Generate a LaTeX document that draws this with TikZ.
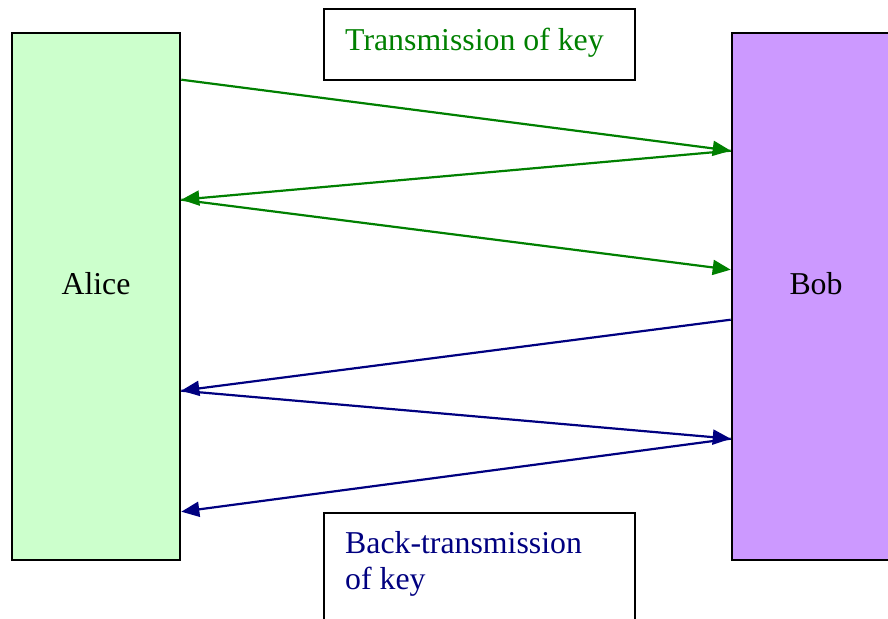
\documentclass[tikz,border=0pt]{standalone}
\usepackage{fontspec}
\setmainfont{Liberation Serif}
\usetikzlibrary{arrows.meta}
\definecolor{keygreen}{HTML}{008000}
\definecolor{keynavy}{HTML}{000080}
\definecolor{alicefill}{HTML}{CCFFCC}
\definecolor{bobfill}{HTML}{CC99FF}
\begin{document}
\begin{tikzpicture}[x=1pt,y=-1pt,
  party/.style={draw=black, line width=2.6pt, minimum width=168pt, minimum height=527pt, inner sep=0pt},
  labelbox/.style={draw=black, line width=2.6pt, minimum width=311pt, inner sep=0pt},
  txt/.style={font=\fontsize{31.8}{36}\selectfont, inner sep=0pt},
  fwd/.style={draw=keygreen, line width=2.2pt, -{Triangle[length=18pt,width=15pt]}},
  back/.style={draw=keynavy, line width=2.2pt, -{Triangle[length=18pt,width=15pt]}}]
\useasboundingbox (0,0) rectangle (888,618);
\clip (0,0) rectangle (888,618);

% the two parties
\node[party, fill=alicefill] (alice) at (96,296.5) {};
\node[party, fill=bobfill] (bob) at (816,296.5) {};
\node[txt, anchor=base] (alicetxt) at (96,294) {Alice};
\node[txt, anchor=base] (bobtxt) at (816,294) {Bob};

% caption boxes
\node[labelbox, minimum height=71pt] (topbox) at (479.5,44.5) {};
\node[txt, anchor=base west, text=keygreen] (toptxt) at (345,51) {Transmission of key};
\node[labelbox, minimum height=130pt] (botbox) at (479.5,578) {};
\node[txt, anchor=base west, text=keynavy, align=left] (bottxt) at (345,589) {Back-transmission\\of key};

% attachment points on the box edges
\path (alice.north east) ++(0,48)  coordinate (a1)
      (alice.north east) ++(0,168) coordinate (a2)
      (alice.north east) ++(0,359) coordinate (a3)
      (alice.north east) ++(0,480) coordinate (a4);
\path (bob.north west) ++(0,119) coordinate (b1)
      (bob.north west) ++(0,238) coordinate (b2)
      (bob.north west) ++(0,288) coordinate (b3)
      (bob.north west) ++(0,407) coordinate (b4);

% key transmission (green)
\draw[fwd] (a1) -- (b1);
\draw[fwd] (b1) -- (a2);
\draw[fwd] (a2) -- (b2);
% back-transmission (navy)
\draw[back] (b3) -- (a3);
\draw[back] (a3) -- (b4);
\draw[back] (b4) -- (a4);
\end{tikzpicture}
\end{document}
